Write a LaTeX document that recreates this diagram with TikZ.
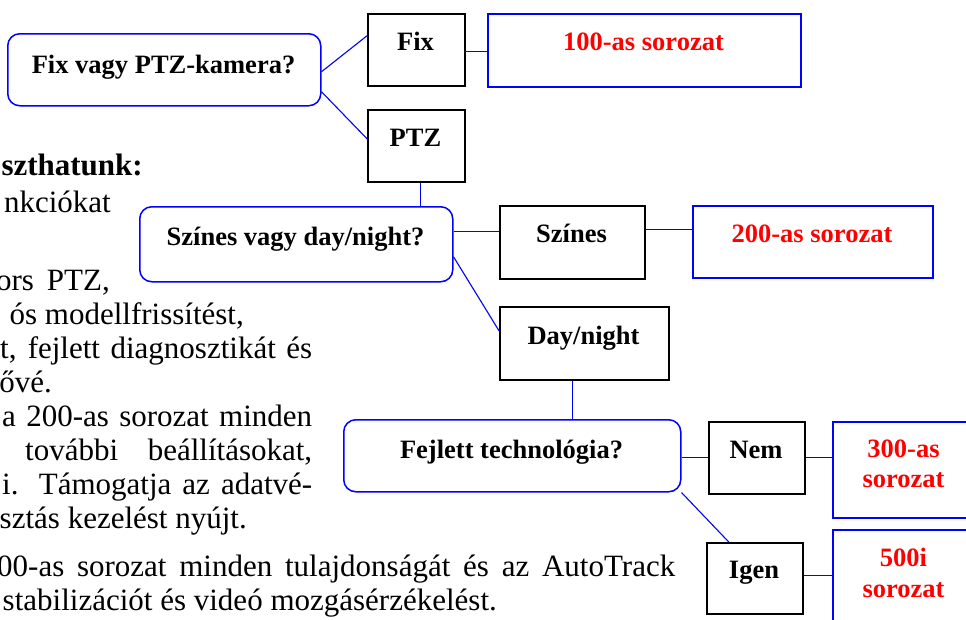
\documentclass[tikz,border=0pt]{standalone}
\usepackage{fontspec}
\setmainfont{Liberation Serif}
\begin{document}
\begin{tikzpicture}[x=1pt,y=-1pt,
  qbox/.style={draw=blue, line width=1.5pt, rounded corners=12pt, fill=white, inner sep=0pt, anchor=north west},
  abox/.style={draw=black, line width=1.5pt, fill=white, inner sep=0pt, anchor=north west},
  rbox/.style={draw=blue, line width=1.5pt, fill=white, inner sep=0pt, anchor=north west},
  conn/.style={draw=blue, line width=1.1pt},
  lbl/.style={font=\bfseries\fontsize{26.5}{30}\selectfont, anchor=base, inner sep=0pt},
  rlbl/.style={lbl, text=red},
  body/.style={font=\fontsize{31}{34}\selectfont, inner sep=0pt},
]
\useasboundingbox (0,0) rectangle (966,619);
\clip (0,0) rectangle (966,619);

% background document text (cut off at the left)
\node[body, anchor=base east, font=\bfseries\fontsize{31}{34}\selectfont] (p1) at (143,175) {szthatunk:};
\node[body, anchor=base east] (p2) at (111,212) {nkciókat};
\node[body, anchor=base east] (p3) at (110,290) {ors\hspace{13pt}PTZ,};
\node[body, anchor=base east] (p4) at (244,324) {ós modellfrissítést,};
\node[body, anchor=base west] (p5) at (0,358) {\makebox[312pt][s]{t, fejlett diagnosztikát és}};
\node[body, anchor=base east] (p6) at (52,392) {ővé.};
\node[body, anchor=base west] (p7) at (2,426) {\makebox[310pt][s]{a 200-as sorozat minden}};
\node[body, anchor=base west] (p8) at (25,460) {\makebox[287pt][s]{további beállításokat,}};
\node[body, anchor=base west] (p9) at (2,494) {\makebox[310pt][s]{i. Támogatja az adatvé-}};
\node[body, anchor=base east] (p10) at (247,528) {sztás kezelést nyújt.};
\node[body, anchor=base west] (p11) at (-3,576) {\makebox[678pt][s]{00-as sorozat minden tulajdonságát és az AutoTrack}};
\node[body, anchor=base east] (p12) at (497,610) {stabilizációt és videó mozgásérzékelést.};

% boxes
\node[qbox, minimum width=313pt, minimum height=72pt] (A) at (7,33) {};
\node[abox, minimum width=97pt, minimum height=72pt] (fix) at (367,13) {};
\node[abox, minimum width=97pt, minimum height=72pt] (ptz) at (367,109) {};
\node[rbox, minimum width=313pt, minimum height=73pt] (s100) at (487,13) {};
\node[qbox, minimum width=313pt, minimum height=75pt] (B) at (139,206) {};
\node[abox, minimum width=145pt, minimum height=73pt] (szines) at (499,205) {};
\node[rbox, minimum width=240pt, minimum height=72pt] (s200) at (692,205) {};
\node[abox, minimum width=169pt, minimum height=73pt] (day) at (499,306) {};
\node[qbox, minimum width=337pt, minimum height=72pt] (C) at (343,419) {};
\node[abox, minimum width=96pt, minimum height=72pt] (nem) at (708,421) {};
\node[rbox, minimum width=143pt, minimum height=96pt] (s300) at (832,421) {};
\node[abox, minimum width=96pt, minimum height=71pt] (igen) at (706,542) {};
\node[rbox, minimum width=143pt, minimum height=110pt] (s500) at (832,529) {};

% labels
\node[lbl] (tA) at (163.5,73) {Fix vagy PTZ-kamera?};
\node[lbl] (tfix) at (415.5,50) {Fix};
\node[lbl] (tptz) at (415.5,146) {PTZ};
\node[rlbl] (t100) at (643.5,50) {100-as sorozat};
\node[lbl] (tB) at (295.5,245) {Színes vagy day/night?};
\node[lbl] (tsz) at (571.5,242) {Színes};
\node[rlbl] (t200) at (812,242) {200-as sorozat};
\node[lbl] (tday) at (583.5,344) {Day/night};
\node[lbl] (tC) at (511.5,458) {Fejlett technológia?};
\node[lbl] (tnem) at (756,458) {Nem};
\node[rlbl] (t300a) at (903.5,457) {300-as};
\node[rlbl] (t300b) at (903.5,487) {sorozat};
\node[lbl] (tigen) at (754,578) {Igen};
\node[rlbl] (t500a) at (903.5,566) {500i};
\node[rlbl] (t500b) at (903.5,597) {sorozat};

% connector end points
\coordinate (a1) at ([yshift=-2pt]A.east);
\coordinate (a2) at ([yshift=-22pt]A.east);
\coordinate (f1) at ([yshift=14pt]fix.west);
\coordinate (p1e) at ([yshift=7pt]ptz.west);
\coordinate (pb) at ([xshift=4.5pt]ptz.south);
\coordinate (fe) at ([xshift=-2pt,yshift=-2pt]fix.east);
\coordinate (b1) at ([yshift=12.5pt]B.east);
\coordinate (b2) at ([yshift=-12.5pt]B.east);
\coordinate (se) at ([yshift=12.5pt]szines.east);
\coordinate (dw) at ([yshift=12.5pt]day.west);
\coordinate (ds) at ([xshift=-11.5pt]day.south);
\coordinate (ce) at ([yshift=-2pt]C.east);
\coordinate (ig) at ([xshift=-26pt]igen.north);
\coordinate (ie) at ([yshift=2.5pt]igen.east);

% connectors
\draw[conn] (a1) -- (f1);
\draw[conn] (a2) -- (p1e);
\draw[conn] (fe) -- (fe -| s100.west);
\draw[conn] (pb) -- (pb |- B.north);
\draw[conn] (b1) -- (b1 -| szines.west);
\draw[conn] (se) -- (se -| s200.west);
\draw[conn] (b2) -- (dw);
\draw[conn] (ds) -- (ds |- C.north);
\draw[conn] (ce) -- (ce -| nem.west);
\draw[conn] (nem.east) -- (nem.east -| s300.west);
\draw[conn] (C.south east) -- (ig);
\draw[conn] (ie) -- (ie -| s500.west);
\end{tikzpicture}
\end{document}
